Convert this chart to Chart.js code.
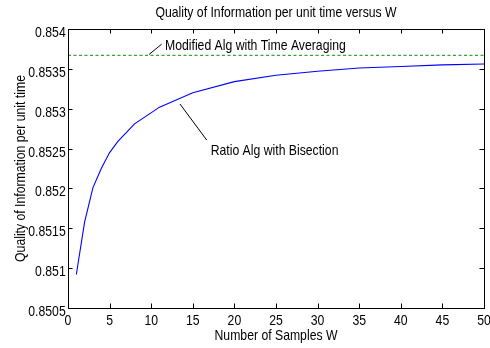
<!DOCTYPE html>
<html><head><meta charset="utf-8">
<script src="https://cdn.jsdelivr.net/npm/chart.js@4"></script>
<style>html,body{margin:0;padding:0;background:#fff}#wrap{width:490px;height:348px}</style>
</head><body><div id="wrap"><canvas id="c" width="490" height="348"></canvas></div>
<script>
const samplesW = [1,2,3,4,5,6,8,11,15,20,25,30,35,40,45,50];
const ratioAlg = [0.85092,0.85158,0.85201,0.85225,0.85245,0.85259,0.85281,0.85302,0.85320,0.85334,0.85342,0.85347,0.85351,0.85353,0.85355,0.85356];
const modifiedW = [0,50];
const modifiedAlg = [0.85367,0.85367];
const xTicks = [0,5,10,15,20,25,30,35,40,45,50];
const yTicks = [0.8505,0.851,0.8515,0.852,0.8525,0.853,0.8535,0.854];
const labels = {
  title: 'Quality of Information per unit time versus W',
  x: 'Number of Samples W',
  y: 'Quality of Information per unit time',
  modified: 'Modified Alg with Time Averaging',
  ratio: 'Ratio Alg with Bisection'
};
const notes = [
  {text: labels.modified, tx: 11.66, ty: 0.853737, lx0: 9.74, ly0: 0.85368, lx1: 11.26, ly1: 0.85381},
  {text: labels.ratio, tx: 17.15, ty: 0.852419, lx0: 13.46, ly0: 0.853059, lx1: 16.67, ly1: 0.852607}
];
const FONT = '"Liberation Sans", Arial, sans-serif';
const SQUEEZE = 0.815;
const fmtY = v => String(parseFloat(Number(v).toFixed(4)));

function text(ctx, s, x, y, align, rotate) {
  ctx.save();
  ctx.translate(x, y);
  if (rotate) ctx.rotate(-Math.PI / 2);
  ctx.scale(SQUEEZE, 1);
  ctx.textAlign = align;
  ctx.fillText(s, 0, 0);
  ctx.restore();
}

const boxPlugin = {
  id: 'box',
  afterDraw(chart) {
    const {ctx, chartArea: a, scales: {x, y}} = chart;
    ctx.save();
    ctx.strokeStyle = '#000';
    ctx.lineWidth = 1;
    ctx.strokeRect(Math.round(a.left) + 0.5, Math.round(a.top) + 0.5, Math.round(a.right - a.left), Math.round(a.bottom - a.top));
    const L = 4.5;
    ctx.beginPath();
    x.ticks.forEach(t => {
      const px = Math.round(x.getPixelForValue(t.value)) + 0.5;
      ctx.moveTo(px, a.bottom); ctx.lineTo(px, a.bottom - L);
      ctx.moveTo(px, a.top); ctx.lineTo(px, a.top + L);
    });
    y.ticks.forEach(t => {
      const py = Math.round(y.getPixelForValue(t.value)) + 0.5;
      ctx.moveTo(a.left, py); ctx.lineTo(a.left + L, py);
      ctx.moveTo(a.right, py); ctx.lineTo(a.right - L, py);
    });
    ctx.stroke();
    ctx.fillStyle = '#000';
    ctx.font = '15px ' + FONT;
    ctx.textBaseline = 'alphabetic';
    // tick labels from the library's scales
    x.ticks.forEach(t => text(ctx, String(t.value), x.getPixelForValue(t.value), a.bottom + 17, 'center'));
    y.ticks.forEach(t => text(ctx, fmtY(t.value), a.left - 2.3, y.getPixelForValue(t.value) + 8, 'right'));
    // titles
    const cx = (a.left + a.right) / 2, cy = (a.top + a.bottom) / 2;
    text(ctx, labels.title, cx, 17, 'center');
    text(ctx, labels.x, cx, 340, 'center');
    text(ctx, labels.y, 24.5, cy, 'center', true);
    // annotations
    notes.forEach(n => {
      ctx.beginPath();
      ctx.moveTo(x.getPixelForValue(n.lx0), y.getPixelForValue(n.ly0));
      ctx.lineTo(x.getPixelForValue(n.lx1), y.getPixelForValue(n.ly1));
      ctx.stroke();
      text(ctx, n.text, x.getPixelForValue(n.tx), y.getPixelForValue(n.ty), 'left');
    });
    ctx.restore();
  }
};

new Chart(document.getElementById('c'), {
  type: 'scatter',
  data: {
    datasets: [
      {
        label: labels.ratio,
        data: samplesW.map((w, i) => ({x: w, y: ratioAlg[i]})),
        showLine: true, borderColor: '#0000ff', borderWidth: 1.1, pointRadius: 0, tension: 0
      },
      {
        label: labels.modified,
        data: modifiedW.map((w, i) => ({x: w, y: modifiedAlg[i]})),
        showLine: true, borderColor: '#009000', borderWidth: 1, borderDash: [3, 2.5], pointRadius: 0
      }
    ]
  },
  options: {
    responsive: false,
    animation: false,
    layout: {padding: {left: 0, right: 6, top: 29, bottom: 0}},
    plugins: {
      legend: {display: false},
      tooltip: {enabled: false},
      title: {display: false}
    },
    scales: {
      x: {
        type: 'linear', min: 0, max: 50,
        afterFit: s => { s.height = 40; s.paddingLeft = 0; s.paddingRight = 0; },
        afterBuildTicks: s => { s.ticks = xTicks.map(v => ({value: v})); },
        grid: {display: false, drawTicks: false},
        border: {display: false},
        ticks: {display: false}
      },
      y: {
        type: 'linear', min: 0.8505, max: 0.854,
        afterFit: s => { s.width = 68; s.paddingTop = 0; s.paddingBottom = 0; },
        afterBuildTicks: s => { s.ticks = yTicks.map(v => ({value: v})); },
        grid: {display: false, drawTicks: false},
        border: {display: false},
        ticks: {display: false}
      }
    }
  },
  plugins: [boxPlugin]
});
</script>
</body></html>
